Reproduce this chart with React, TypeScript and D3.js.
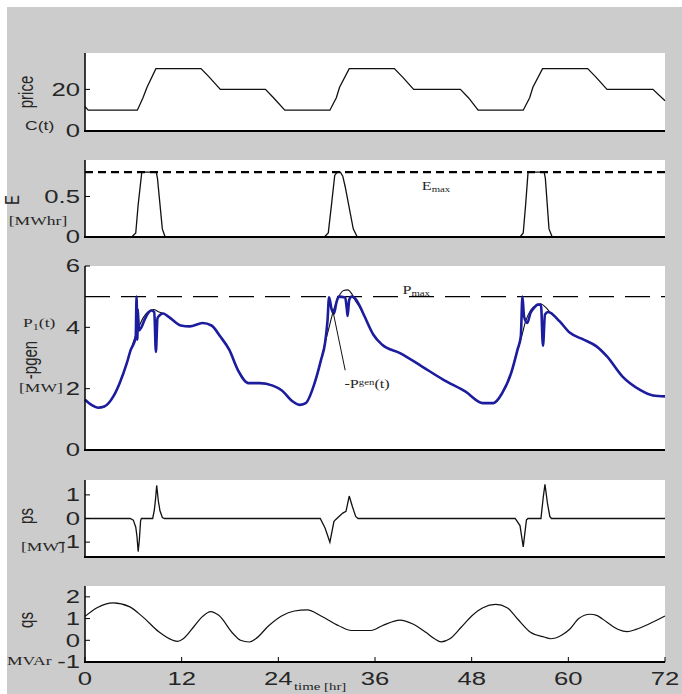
import React from 'react';
import * as d3 from 'd3';

// ---------- data ----------
const xTicks = [0, 12, 24, 36, 48, 60, 72];

const priceT = [0, 0.4, 6.5, 7.2, 7.7, 8.8, 14.4, 15.4, 16.8, 22.4, 23.4, 24.8, 30.4, 31.2, 31.6, 32.8, 38.4, 39.4, 40.8, 46.6, 47.6, 48.8, 54.4, 55.2, 55.6, 56.8, 62.4, 63.4, 64.8, 70.5, 72];
const priceV = [11.7, 10, 10, 16, 21, 30, 30, 26, 20, 20, 16, 10, 10, 16, 21, 30, 30, 26, 20, 20, 16, 10, 10, 16, 21, 30, 30, 26, 20, 20, 14.5];

const eT = [0, 5.8, 6.3, 6.6, 7.05, 8.85, 9.0, 9.6, 9.95, 29.7, 30.2, 30.6, 31.0, 31.3, 31.7, 32.0, 32.3, 33.3, 33.8, 54.0, 54.4, 54.7, 55.0, 57.0, 57.15, 57.6, 58.0, 72];
const eV = [0, 0, 0.05, 0.4, 0.8, 0.8, 0.72, 0.1, 0, 0, 0.05, 0.4, 0.76, 0.8, 0.8, 0.75, 0.62, 0.1, 0, 0, 0.05, 0.4, 0.8, 0.8, 0.72, 0.1, 0, 0];
const eMax = 0.8;

const p1T = [0, 0.8, 1.6, 2.4, 3.5, 4.3, 5.2, 5.7, 6.1, 6.3, 6.4, 6.5, 6.55, 6.7, 7.0, 7.4, 7.8, 8.2, 8.6, 8.8, 9.0, 9.3, 9.7, 10.3, 11.9, 13.0, 14.6, 15.7, 16.8, 17.9, 19.0, 20.3, 21.7, 23.3, 24.4, 25.8, 26.6, 27.4, 28.5, 29.3, 29.8, 30.1, 30.3, 30.6, 30.9, 31.2, 31.5, 32.3, 32.5, 32.6, 32.8, 33.1, 33.5, 34.1, 34.7, 35.8, 36.9, 39.1, 41.8, 44.5, 47.2, 49.4, 50.7, 51.8, 52.9, 53.7, 54.1, 54.3, 54.5, 54.9, 55.3, 55.8, 56.2, 56.6, 56.85, 57.1, 57.5, 57.8, 58.9, 60.2, 61.9, 63.5, 64.8, 66.7, 68.9, 70.5, 72];
const p1V = [1.64, 1.47, 1.38, 1.42, 1.74, 2.18, 2.84, 3.28, 3.5, 3.7, 5.0, 3.6, 4.6, 3.9, 4.0, 4.25, 4.45, 4.55, 4.5, 3.2, 4.3, 4.4, 4.45, 4.36, 4.06, 4.03, 4.14, 4.06, 3.7, 3.27, 2.6, 2.18, 2.18, 2.1, 1.95, 1.58, 1.47, 1.53, 2.18, 2.94, 3.49, 4.2, 4.98, 4.6, 4.45, 4.8, 5.0, 4.97, 4.6, 4.37, 4.9, 5.0, 4.95, 4.7, 4.36, 3.76, 3.43, 3.16, 2.73, 2.29, 1.91, 1.53, 1.53, 1.86, 2.51, 3.28, 3.7, 5.0, 4.36, 4.14, 4.47, 4.65, 4.74, 4.74, 3.4, 4.42, 4.5, 4.47, 4.2, 3.82, 3.6, 3.38, 3.05, 2.4, 1.96, 1.78, 1.75];

const genT = [0, 0.8, 1.6, 2.4, 3.5, 4.3, 5.2, 5.7, 6.1, 6.6, 7.2, 7.8, 8.5, 9.2, 9.7, 10.3, 11.9, 13.0, 14.6, 15.7, 16.8, 17.9, 19.0, 20.3, 21.7, 23.3, 24.4, 25.8, 26.6, 27.4, 28.5, 29.3, 29.8, 30.3, 30.9, 31.5, 32.1, 32.6, 33.1, 33.6, 34.0, 34.7, 35.8, 36.9, 39.1, 41.8, 44.5, 47.2, 49.4, 50.7, 51.8, 52.9, 53.7, 54.2, 54.7, 55.3, 56.0, 56.6, 57.2, 57.8, 58.9, 60.2, 61.9, 63.5, 64.8, 66.7, 68.9, 70.5, 72];
const genV = [1.64, 1.47, 1.38, 1.42, 1.74, 2.18, 2.84, 3.28, 3.6, 3.95, 4.3, 4.5, 4.58, 4.5, 4.45, 4.36, 4.06, 4.03, 4.14, 4.06, 3.7, 3.27, 2.6, 2.18, 2.18, 2.1, 1.95, 1.58, 1.47, 1.53, 2.18, 2.94, 3.49, 4.0, 4.6, 5.0, 5.2, 5.22, 5.1, 4.85, 4.7, 4.36, 3.76, 3.43, 3.16, 2.73, 2.29, 1.91, 1.53, 1.53, 1.86, 2.51, 3.28, 3.7, 4.2, 4.55, 4.72, 4.76, 4.65, 4.47, 4.2, 3.82, 3.6, 3.38, 3.05, 2.4, 1.96, 1.78, 1.75];
const pMax = 5;
const genPointer = [[30.8, 4.5], [32.3, 2.6]];

const psT = [0, 5.6, 6.0, 6.3, 6.45, 6.6, 6.75, 6.9, 7.0, 8.4, 8.6, 8.75, 8.9, 9.1, 9.3, 9.6, 9.85, 29.2, 29.8, 30.4, 30.9, 31.1, 32.0, 32.4, 32.8, 33.2, 33.6, 33.9, 53.4, 54.0, 54.4, 54.8, 55.0, 56.6, 56.9, 57.1, 57.4, 57.7, 57.9, 72];
const psV = [0, 0, -0.07, -0.37, -0.75, -1.4, -0.9, -0.1, 0, 0, 0.34, 0.8, 1.4, 0.75, 0.34, 0.04, 0, 0, -0.4, -1.0, -0.13, -0.05, 0.23, 0.3, 0.95, 0.5, 0.09, 0, 0, -0.3, -1.2, -0.06, 0, 0, 0.94, 1.45, 0.66, 0.09, 0, 0];

const qsT = [0, 1.5, 3.5, 5.5, 7.1, 9.2, 10.9, 11.5, 12.2, 13.6, 14.6, 15.6, 16.6, 18.4, 19.3, 20.4, 21.2, 22.8, 24.4, 26.0, 27.6, 29.3, 31.5, 33.1, 34.2, 35.5, 36.9, 39.1, 40.7, 42.3, 43.4, 44.2, 45.3, 46.7, 48.0, 49.4, 51.0, 52.4, 53.7, 55.3, 57.0, 57.8, 59.1, 60.2, 61.3, 62.7, 63.5, 64.8, 66.2, 67.3, 68.4, 70.0, 72];
const qsV = [1.1, 1.5, 1.72, 1.55, 1.1, 0.38, 0.0, -0.05, 0.07, 0.67, 1.1, 1.32, 1.15, 0.3, 0.0, -0.08, 0.07, 0.67, 1.12, 1.35, 1.4, 1.12, 0.67, 0.45, 0.45, 0.45, 0.67, 0.93, 0.75, 0.37, 0.07, -0.07, 0.07, 0.6, 1.12, 1.5, 1.65, 1.5, 0.98, 0.37, 0.15, 0.07, 0.22, 0.52, 1.0, 1.2, 1.15, 0.83, 0.5, 0.4, 0.5, 0.75, 1.12];

// ---------- layout ----------
const SX = 1.35;
const X0 = 85, X1 = 665;
const SANS = 'Liberation Sans, Arial, sans-serif';
const SERIF = 'Liberation Serif, Times New Roman, serif';
const TXT = '#262626';

type Panel = { top: number; bottom: number; domain: [number, number]; ticks: number[] };

function Txt(props: any) {
  const { x, y, rot = 0, size = 17, family = SANS, anchor = 'start', children, fill = TXT, base } = props;
  return (
    <text
      transform={`translate(${x},${y}) scale(${SX},1) rotate(${rot})`}
      fontSize={size}
      fontFamily={family}
      textAnchor={anchor}
      fill={fill}
      dominantBaseline={base}
    >
      {children}
    </text>
  );
}

export default function App() {
  const x = d3.scaleLinear().domain([0, 72]).range([X0, X1]);

  const panels: Panel[] = [
    { top: 53, bottom: 131, domain: [0, 37.5], ticks: [0, 20] },
    { top: 160, bottom: 237, domain: [0, 0.95], ticks: [0, 0.5] },
    { top: 266, bottom: 450, domain: [0, 6], ticks: [0, 2, 4, 6] },
    { top: 480, bottom: 557, domain: [-1.63, 1.63], ticks: [-1, 0, 1] },
    { top: 586, bottom: 662, domain: [-1, 2.5], ticks: [-1, 0, 1, 2] },
  ];
  const ys = panels.map((p) => d3.scaleLinear().domain(p.domain).range([p.bottom, p.top]));

  const mk = (ts: number[], vs: number[], y: d3.ScaleLinear<number, number>, curve: any = d3.curveLinear) =>
    d3.line<number>().x((_, i) => x(ts[i])).y((v) => y(v)).curve(curve)(vs) || '';

  const fmt = (v: number) => (v === 0.5 ? '0.5' : String(v));

  return (
    <svg width={682} height={694} style={{ position: 'absolute', left: 0, top: 0 }}>
      <rect x={0} y={0} width={682} height={694} fill="#ffffff" />
      <rect x={7} y={7} width={675} height={687} fill="#cccccc" />
      {panels.map((p, i) => (
        <g key={i}>
          <rect x={X0} y={p.top} width={X1 - X0} height={p.bottom - p.top} fill="#ffffff" />
        </g>
      ))}

      {/* panel 1: price */}
      <path d={mk(priceT, priceV, ys[0])} fill="none" stroke="#111" strokeWidth={1.3} />
      {/* panel 2: E */}
      <path d={mk(eT, eV, ys[1])} fill="none" stroke="#111" strokeWidth={1.3} />
      <line x1={X0} x2={X1} y1={ys[1](eMax)} y2={ys[1](eMax)} stroke="#000" strokeWidth={2.2} strokeDasharray="8 5" />
      {/* panel 3 */}
      <line x1={X0} x2={X1} y1={ys[2](pMax)} y2={ys[2](pMax)} stroke="#000" strokeWidth={1.1} strokeDasharray="25 11" />
      <path d={mk(genT, genV, ys[2], d3.curveMonotoneX)} fill="none" stroke="#111" strokeWidth={1.1} />
      <path d={mk(p1T, p1V, ys[2], d3.curveMonotoneX)} fill="none" stroke="#1c1c9e" strokeWidth={2.6} strokeLinejoin="round" />
      <line
        x1={x(genPointer[0][0])} y1={ys[2](genPointer[0][1])}
        x2={x(genPointer[1][0])} y2={ys[2](genPointer[1][1])}
        stroke="#111" strokeWidth={1}
      />
      {/* panel 4: ps */}
      <path d={mk(psT, psV, ys[3])} fill="none" stroke="#111" strokeWidth={1.3} />
      {/* panel 5: qs */}
      <path d={mk(qsT, qsV, ys[4], d3.curveMonotoneX)} fill="none" stroke="#111" strokeWidth={1.2} />

      {/* axes */}
      {panels.map((p, i) => (
        <g key={'ax' + i}>
          <line x1={X0} x2={X0} y1={p.top} y2={p.bottom} stroke="#000" strokeWidth={1.5} />
          <line x1={X0 - 1} x2={X1} y1={p.bottom} y2={p.bottom} stroke="#000" strokeWidth={2} />
          {p.ticks.map((t) => (
            <g key={t}>
              <line x1={X0} x2={X0 + 5} y1={ys[i](t)} y2={ys[i](t)} stroke="#000" strokeWidth={1} />
              <Txt x={80} y={ys[i](t)} anchor="end" size={19} base="central">{fmt(t)}</Txt>
            </g>
          ))}
        </g>
      ))}
      {xTicks.map((t) => (
        <g key={'xt' + t}>
          <line x1={x(t)} x2={x(t)} y1={panels[4].bottom} y2={panels[4].bottom - 5} stroke="#000" strokeWidth={1} />
          <Txt x={x(t)} y={685} anchor="middle" size={19}>{String(t)}</Txt>
        </g>
      ))}

      {/* labels */}
      <Txt x={33} y={92} rot={-90} anchor="middle" size={15}>price</Txt>
      <Txt x={25} y={130} size={13}>C(t)</Txt>
      <Txt x={19} y={200} rot={-90} anchor="middle" size={15}>E</Txt>
      <Txt x={38} y={225} anchor="middle" size={13} family={SERIF}>[MWhr]</Txt>
      <Txt x={23} y={327} size={13} family={SERIF}>P<tspan fontSize={9} dy={3}>1</tspan><tspan dy={-3}>(t)</tspan></Txt>
      <Txt x={37} y={360} rot={-90} anchor="middle" size={15}>-pgen</Txt>
      <Txt x={19} y={392} size={13} family={SERIF}>[MW]</Txt>
      <Txt x={33} y={516} rot={-90} anchor="middle" size={15}>ps</Txt>
      <Txt x={21} y={551} size={13} family={SERIF}>[MW]</Txt>
      <Txt x={33} y={620} rot={-90} anchor="middle" size={15}>qs</Txt>
      <Txt x={7} y={665} size={13} family={SERIF}>MVAr</Txt>
      <Txt x={294} y={690} size={11} family={SERIF}>time [hr]</Txt>

      <Txt x={x(41.8)} y={190} size={12} family={SERIF}>E<tspan fontSize={8} dy={2}>max</tspan></Txt>
      <Txt x={x(39.4)} y={294} size={12} family={SERIF}>P<tspan fontSize={8} dy={2}>max</tspan></Txt>
      <Txt x={x(32.2)} y={388} size={12} family={SERIF}>-P<tspan fontSize={8} dy={-3}>gen</tspan><tspan dy={3}>(t)</tspan></Txt>
    </svg>
  );
}
